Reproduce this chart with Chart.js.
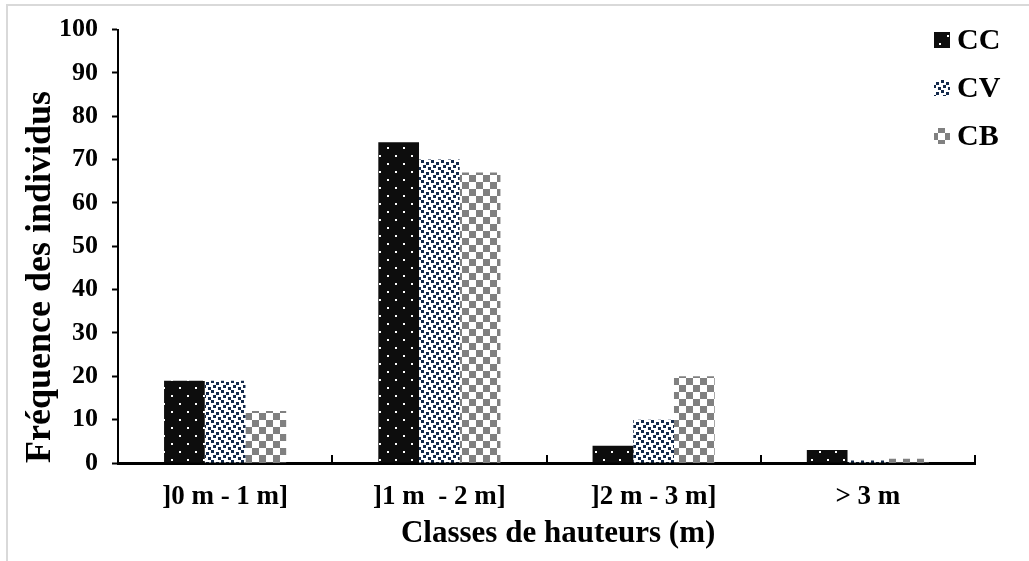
<!DOCTYPE html>
<html lang="fr">
  <head>
    <meta charset="UTF-8" />
    <script src="https://cdn.jsdelivr.net/npm/chart.js@4"></script>
    <title>Classes de hauteurs</title>
    <style>
      body { margin: 0; overflow: hidden; background: #fff; }
      #frame {
        position: absolute; left: 6px; top: 4px; width: 1100px; height: 700px;
        border-left: 2px solid #d9d9d9; border-top: 2px solid #d9d9d9;
      }
      #wrap { position: absolute; left: 0; top: 0; width: 1029px; height: 561px; }
    </style>
  </head>
  <body>
    <div id="frame"></div>
    <div id="wrap"><canvas id="myChart" width="1029" height="561"></canvas></div>

    <script>
      const classes = ["]0 m - 1 m]", "]1 m  - 2 m]", "]2 m - 3 m]", "> 3 m"];
      const seriesNames = ["CC", "CV", "CB"];
      const valuesCC = [19, 74, 4, 3];
      const valuesCV = [19, 70, 10, 0.6];
      const valuesCB = [12, 67, 20, 1];
      const yTicks = [0, 10, 20, 30, 40, 50, 60, 70, 80, 90, 100];

      const FONT = "'Liberation Serif', 'Times New Roman', serif";

      // patterns drawn on little tiles
      function tile(w, h, draw) {
        const c = document.createElement("canvas");
        c.width = w;
        c.height = h;
        draw(c.getContext("2d"));
        return document.createElement("canvas").getContext("2d").createPattern(c, "repeat");
      }
      const patCC = tile(16, 16, g => {
        g.fillStyle = "#0d0d0d";
        g.fillRect(0, 0, 16, 16);
        g.fillStyle = "#fff";
        g.fillRect(3, 3, 2, 2);
        g.fillRect(11, 11, 2, 2);
      });
      const patCV = tile(10, 10, g => {
        g.fillStyle = "#fff";
        g.fillRect(0, 0, 10, 10);
        g.fillStyle = "#13294b";
        g.fillRect(1, 0, 3, 3);
        g.fillRect(6, 2, 3, 3);
        g.fillRect(3, 5, 3, 3);
        g.fillRect(8, 7, 3, 3);
        g.fillRect(-2, 7, 3, 3);
      });
      const patCB = tile(14, 14, g => {
        g.fillStyle = "#fff";
        g.fillRect(0, 0, 14, 14);
        g.fillStyle = "#808080";
        g.fillRect(0, 0, 7, 7);
        g.fillRect(7, 7, 7, 7);
      });
      const patterns = [patCC, patCV, patCB];

      // inward ticks on the x axis + legend inside the plot
      const extras = {
        id: "extras",
        afterDraw(chart) {
          const ctx = chart.ctx;
          const x = chart.scales.x;
          const step = (x.right - x.left) / classes.length;
          ctx.save();
          ctx.strokeStyle = "#000";
          ctx.lineWidth = 2;
          for (let i = 1; i <= classes.length; i++) {
            const px = Math.round(x.left + i * step);
            ctx.beginPath();
            ctx.moveTo(px, x.top);
            ctx.lineTo(px, x.top - 8);
            ctx.stroke();
          }
          ctx.font = "bold 30px " + FONT;
          ctx.textBaseline = "middle";
          seriesNames.forEach((name, i) => {
            const cy = 40 + i * 48;
            ctx.fillStyle = patterns[i];
            ctx.fillRect(934, cy - 8, 16, 16);
            ctx.fillStyle = "#000";
            ctx.fillText(name, 957, cy + 1);
          });
          ctx.restore();
        }
      };

      const ctx = document.getElementById("myChart").getContext("2d");
      const chart = new Chart(ctx, {
        type: "bar",
        data: {
          labels: classes,
          datasets: [
            { label: seriesNames[0], data: valuesCC, backgroundColor: patCC },
            { label: seriesNames[1], data: valuesCV, backgroundColor: patCV },
            { label: seriesNames[2], data: valuesCB, backgroundColor: patCB }
          ]
        },
        options: {
          responsive: false,
          animation: false,
          devicePixelRatio: 1,
          layout: { padding: { top: 24, right: 54, left: 8, bottom: 0 } },
          datasets: { bar: { categoryPercentage: 0.57, barPercentage: 1.0, borderWidth: 0 } },
          plugins: { legend: { display: false }, tooltip: { enabled: false } },
          scales: {
            x: {
              afterFit: s => { s.height = 98; },
              grid: { display: false },
              border: { display: true, color: "#000", width: 3 },
              ticks: { color: "#000", font: { family: FONT, size: 27, weight: "bold" }, padding: 10, maxRotation: 0 },
              title: { display: true, text: "   Classes de hauteurs (m)", color: "#000",
                       font: { family: FONT, size: 31, weight: "bold" }, padding: { top: 4, bottom: 8 } }
            },
            y: {
              min: 0,
              max: 100,
              afterFit: s => { s.width = 110; },
              afterBuildTicks: s => { s.ticks = yTicks.map(v => ({ value: v })); },
              grid: { drawOnChartArea: false, color: "#000", tickLength: 6, tickWidth: 2 },
              border: { display: true, color: "#000", width: 2 },
              ticks: { color: "#000", font: { family: FONT, size: 26, weight: "bold" }, padding: 14 },
              title: { display: true, text: "Fréquence des individus", color: "#000", align: "start",
                       font: { family: FONT, size: 36, weight: "bold" }, padding: { top: 11, bottom: 0 } }
            }
          }
        },
        plugins: [extras]
      });
    </script>
  </body>
</html>
